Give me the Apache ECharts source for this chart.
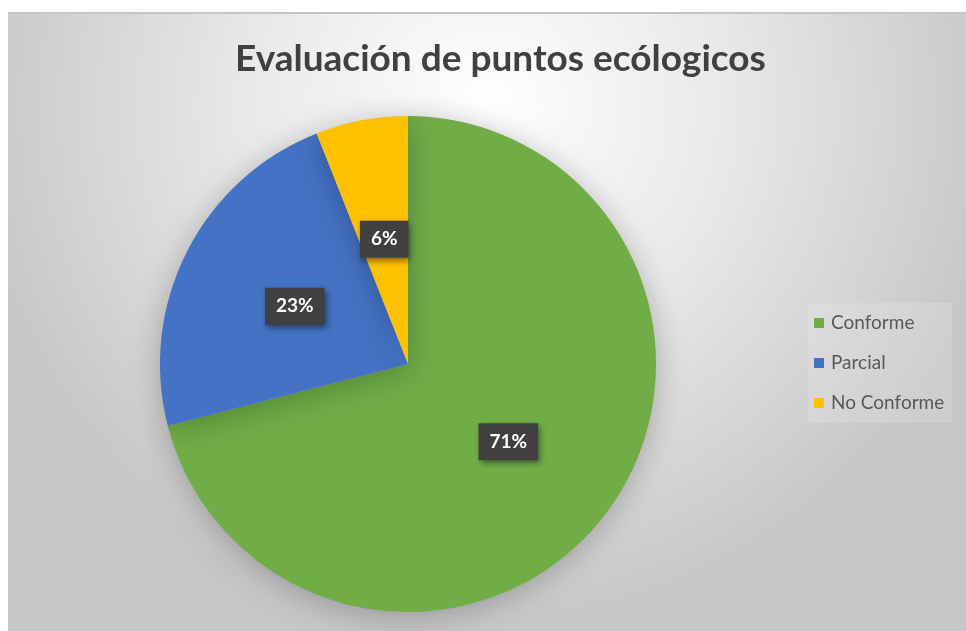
<!DOCTYPE html>
<html>
<head>
<meta charset="utf-8">
<script src="https://cdn.jsdelivr.net/npm/echarts@6/dist/echarts.min.js"></script>
<style>
  html, body { margin: 0; padding: 0; background: #fff; }
  #main {
    position: absolute; left: 8px; top: 12px; width: 958px; height: 619px;
    border-top: 2px solid #c4c4c4;
  }
</style>
</head>
<body>
<div id="main"></div>
<script>
var chartDom = document.getElementById('main')
var myChart = echarts.init(chartDom)

// datos
const categories = ['Conforme', 'Parcial', 'No Conforme']
const values = [71, 23, 6]
const colors = ['#70ad47', '#4472c4', '#ffc000']

const data = categories.map((name, i) => ({
  name: name,
  value: values[i],
  itemStyle: { color: colors[i] }
}))

var option = {
  backgroundColor: new echarts.graphic.RadialGradient(0.5, 0.15, 0.85, [
    { offset: 0, color: '#ffffff' },
    { offset: 0.45, color: '#e9e9e9' },
    { offset: 1, color: '#c6c6c6' }
  ]),
  title: {
    text: 'Evaluación de puntos ecólogicos',
    left: 222,
    top: 22,
    textStyle: {
      fontFamily: 'Lato',
      fontSize: 37,
      fontWeight: 'bold',
      color: '#404040'
    }
  },
  legend: {
    orient: 'vertical',
    left: 800,
    top: 289,
    itemWidth: 10,
    itemHeight: 10,
    itemGap: 20,
    icon: 'rect',
    padding: [10, 8, 10, 6],
    backgroundColor: 'rgba(255,255,255,0.15)',
    textStyle: {
      fontFamily: 'Lato',
      fontSize: 19,
      lineHeight: 20,
      color: '#595959',
      padding: [0, 0, 0, 2]
    },
    data: categories
  },
  series: [
    {
      type: 'pie',
      center: [400, 350],
      radius: 248,
      startAngle: 90,
      clockwise: true,
      silent: true,
      itemStyle: {
        borderWidth: 0,
        shadowBlur: 30,
        shadowColor: 'rgba(0,0,0,0.25)',
        shadowOffsetX: 0,
        shadowOffsetY: 4
      },
      label: {
        show: true,
        position: 'inside',
        formatter: '{d}%',
        fontFamily: 'Lato',
        fontSize: 19,
        fontWeight: 'bold',
        color: '#ffffff',
        backgroundColor: '#404040',
        padding: [10, 11, 8, 11],
        shadowBlur: 6,
        shadowColor: 'rgba(0,0,0,0.45)',
        shadowOffsetX: 2,
        shadowOffsetY: 3
      },
      labelLine: { show: false },
      data: data
    }
  ]
}

option && myChart.setOption(option)
</script>
</body>
</html>
